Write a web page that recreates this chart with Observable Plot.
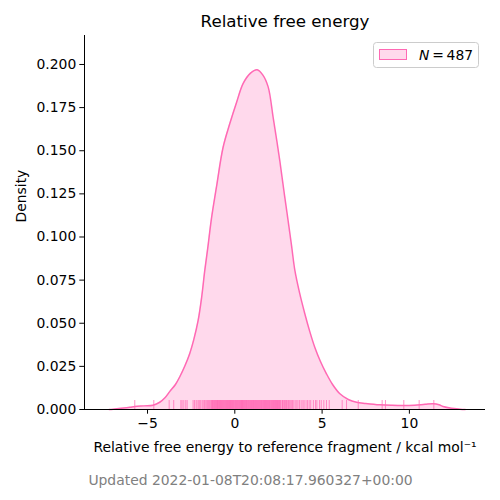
<!DOCTYPE html>
<html>
<head>
<meta charset="utf-8">
<script src="https://cdn.jsdelivr.net/npm/d3@7"></script>
<script src="https://cdn.jsdelivr.net/npm/@observablehq/plot@0.6"></script>
<style>
  body { margin: 0; background: #fff; }
  svg { font-family: "DejaVu Sans", sans-serif; }
</style>
</head>
<body>
<div id="chart"></div>
<script>
// KDE curve
const kdeX = [-7.2, -6.97, -6.5, -6.0, -5.73, -5.2, -4.68, -4.3, -4.0, -3.72, -3.4, -3.15, -2.85, -2.58, -2.35, -2.1, -1.9, -1.72, -1.55, -1.34, -1.05, -0.67, -0.29, 0.1, 0.48, 0.9, 1.28, 1.6, 1.91, 2.2, 2.58, 2.85, 3.05, 3.25, 3.44, 3.7, 4.01, 4.3, 4.58, 4.9, 5.25, 5.6, 6.02, 6.5, 6.97, 7.5, 8.3, 9.0, 9.64, 10.3, 10.9, 11.36, 11.7, 11.93, 12.4, 12.9, 13.2];
const kdeY = [0, 0.0002, 0.0007, 0.0013, 0.0017, 0.0021, 0.0025, 0.0042, 0.0068, 0.0105, 0.0145, 0.019, 0.0255, 0.0325, 0.0405, 0.0516, 0.065, 0.0806, 0.0935, 0.1105, 0.129, 0.152, 0.1656, 0.178, 0.189, 0.195, 0.197, 0.194, 0.187, 0.169, 0.144, 0.124, 0.1096, 0.095, 0.0806, 0.068, 0.0555, 0.045, 0.0361, 0.028, 0.0207, 0.0145, 0.0091, 0.0058, 0.0042, 0.0035, 0.0027, 0.0024, 0.0023, 0.0025, 0.003, 0.0033, 0.0027, 0.0017, 0.0007, 0.0002, 0];

// Rug positions (estimated)
const rugValues = [
  -5.73, -4.64, -3.76, -3.5, -3.09, -3.02, -2.92, -2.81, -2.73,
  -2.39, -2.31, -2.22, -2.16, -2.07, -2.01, -1.95, -1.87, -1.81, -1.74, -1.69, -1.61, -1.57, -1.5, -1.46, -1.41, -1.36,
  -1.32, -1.28, -1.21, -1.18, -1.12, -1.09, -1.03, -0.99, -0.96, -0.9, -0.85, -0.82, -0.76, -0.73, -0.67, -0.64, -0.58, -0.55, -0.49, -0.46, -0.41, -0.35, -0.33, -0.27, -0.22, -0.19, -0.13, -0.1, -0.04, 0.0, 0.05, 0.08, 0.14, 0.17, 0.23, 0.26, 0.32, 0.35, 0.4, 0.44, 0.5, 0.53, 0.59, 0.62, 0.67, 0.71, 0.77, 0.8, 0.86, 0.89, 0.95, 0.98, 1.04, 1.07, 1.12, 1.16, 1.22, 1.25, 1.31, 1.34, 1.4, 1.43, 1.49, 1.52, 1.57, 1.61, 1.67, 1.7, 1.76, 1.79, 1.85, 1.88, 1.94, 1.97, 2.02, 2.06, 2.12, 2.15, 2.21, 2.24, 2.3, 2.33, 2.39, 2.42, 2.47, 2.51, 2.56,
  -1.3, -1.24, -1.15, -1.06, -1.01, -0.93, -0.87, -0.79, -0.7, -0.61, -0.52, -0.44, -0.38, -0.3, -0.25, -0.16, -0.07, 0.02, 0.11, 0.2, 0.29, 0.38, 0.42, 0.47, 0.56, 0.65, 0.74, 0.83, 0.92, 1.01, 1.1, 1.19, 1.28, 1.37, 1.46, 1.55, 1.64, 1.73, 1.82, 1.91, 2.0, 2.09, 2.18, 2.27, 2.36, 2.45, 2.53,
  2.6, 2.63, 2.7, 2.73, 2.76, 2.81, 2.85, 2.91, 2.95, 2.98, 3.04, 3.07, 3.13, 3.2, 3.26, 3.31, 3.38, 3.46, 3.55, 3.62, 3.71, 3.8, 3.9, 3.97, 4.08, 4.17, 4.26, 4.35,
  4.5, 4.62, 4.7, 4.85, 4.95, 5.1, 5.25,
  5.41, 6.15, 6.4, 7.07, 8.44, 8.63, 9.68, 10.56, 11.4
];

const xTicks = [-5, 0, 5, 10];
const yTicks = [0, 0.025, 0.05, 0.075, 0.1, 0.125, 0.15, 0.175, 0.2];

const titleText = "Relative free energy";
const xLabel = "Relative free energy to reference fragment / kcal mol\u207B\u00B9";
const yLabel = "Density";
const caption = "Updated 2022-01-08T20:08:17.960327+00:00";
const legendN = "487";

const kde = kdeX.map((x, i) => ({x, y: kdeY[i]}));
const pink = "#ff69b4";
const xDomain = [-8.61, 14.36];
const fs = 13.9;

const plot = Plot.plot({
  width: 500,
  height: 500,
  marginLeft: 84,
  marginRight: 15,
  marginTop: 35,
  marginBottom: 91,
  style: {fontFamily: "DejaVu Sans, sans-serif", fontSize: fs + "px", color: "#000", background: "#fff"},
  x: {domain: xDomain, ticks: xTicks, tickFormat: d => d < 0 ? "\u2212" + Math.abs(d) : String(d), tickSize: 4.7, tickPadding: 3.5, label: null},
  y: {domain: [0, 0.2168], ticks: yTicks, tickFormat: d3.format(".3f"), tickSize: 4.7, tickPadding: 3.5, label: null},
  marks: [
    Plot.areaY(kde, {x: "x", y: "y", fill: pink, fillOpacity: 0.25, curve: "catmull-rom"}),
    Plot.lineY(kde, {x: "x", y: "y", stroke: pink, strokeWidth: 1.5, curve: "catmull-rom"}),
    Plot.ruleX(rugValues, {x: d => d, y1: 0, y2: 0.0052, stroke: pink, strokeOpacity: 0.75, strokeWidth: 1}),
    Plot.ruleY([0], {stroke: "#000", strokeWidth: 1}),
    Plot.ruleX([xDomain[0]], {stroke: "#000", strokeWidth: 1}),
    Plot.text([titleText], {frameAnchor: "top", dy: -14, fontSize: 16.7, lineAnchor: "middle", fill: "#000"}),
    Plot.text([xLabel], {frameAnchor: "bottom", dy: 38, fontSize: fs, lineAnchor: "middle", fill: "#000"}),
    Plot.text([yLabel], {frameAnchor: "left", dx: -63, rotate: -90, fontSize: fs, lineAnchor: "middle", fill: "#000"}),
    Plot.text([caption], {frameAnchor: "bottom", dx: -34.5, dy: 71, fontSize: fs, lineAnchor: "middle", fill: "#808080"})
  ]
});

document.getElementById("chart").appendChild(plot);

// Legend
const svg = d3.select(plot);
const lg = svg.append("g").attr("text-anchor", "start");
lg.append("rect").attr("x", 373.5).attr("y", 42.5).attr("width", 105).attr("height", 25).attr("rx", 3)
  .attr("fill", "#fff").attr("fill-opacity", 0.8).attr("stroke", "#cccccc");
lg.append("rect").attr("x", 379.5).attr("y", 49.5).attr("width", 27).attr("height", 10)
  .attr("fill", pink).attr("fill-opacity", 0.25).attr("stroke", pink).attr("stroke-width", 1);
const t = lg.append("text").attr("x", 419).attr("y", 55).attr("dy", "0.35em").attr("font-size", fs).attr("fill", "#000").attr("text-anchor", "start");
t.append("tspan").attr("font-style", "italic").text("N");
t.append("tspan").text("\u2009=\u2009" + legendN);
</script>
</body>
</html>
